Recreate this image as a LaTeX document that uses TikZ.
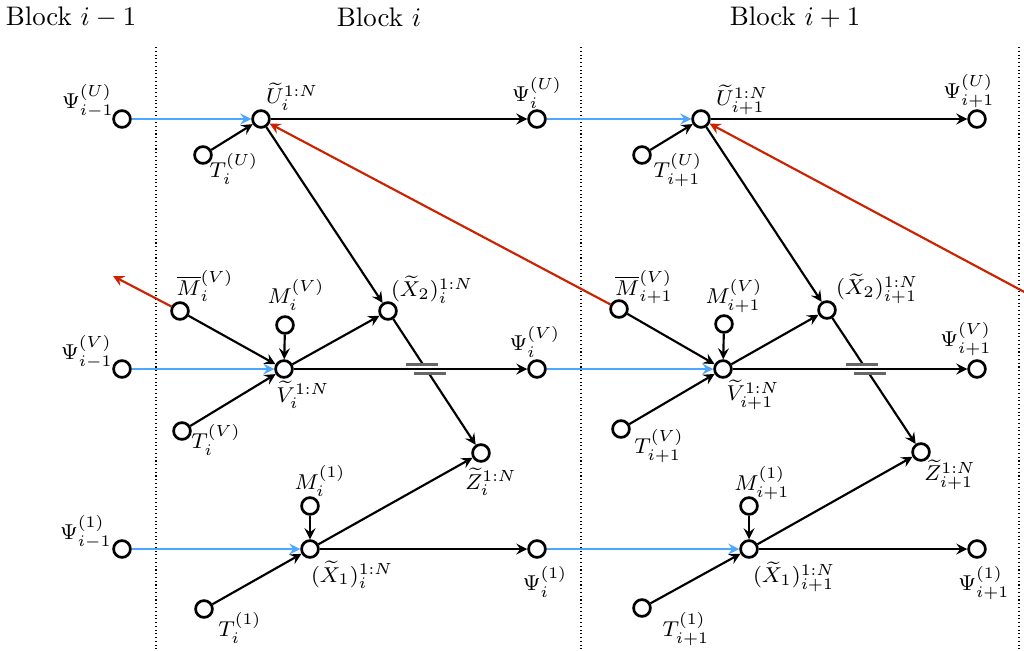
\documentclass[tikz,border=0pt]{standalone}
\usepackage{amsmath}
\usepackage{amssymb}
\usetikzlibrary{arrows.meta}
\definecolor{chainred}{RGB}{204,34,0}
\definecolor{psiblue}{RGB}{77,166,255}

% gap and bridge marks where X2 -> Z passes under V -> Psi
\newcommand{\crosshop}[1]{%
  \fill[white] (#1-7,365.5) rectangle (#1+9,372.5);
  \draw[hop] (#1-19,364.5) -- (#1+13,364.5);
  \draw[hop] (#1-11,373.5) -- (#1+21,373.5);
}

\begin{document}
\begin{tikzpicture}[
        x=0.01309cm, y=-0.01309cm,
        rv/.style={circle, draw=black, line width=1pt, fill=white, inner sep=0pt, minimum size=0.22cm},
        lab/.style={inner sep=0pt, font=\footnotesize},
        arrow/.style={->, >=stealth, thick},
        feed/.style={arrow, draw=psiblue},
        chain/.style={arrow, draw=chainred},
        sep/.style={densely dotted, thin},
        hop/.style={black!60, thick}
        ]
        \useasboundingbox (0,0) rectangle (1024,650);
        \clip (0,0) rectangle (1024,650);

        % Titles and block borders
        \node (titlePrev) at (71,17) {Block $i-1$};
        \node (titleCur) at (379,17) {Block $i$};
        \node (titleNext) at (795,17) {Block $i+1$};
        \draw[sep] (156,47) -- (156,650);
        \draw[sep] (581,47) -- (581,650);
        \draw[sep] (1019,47) -- (1019,650);

        % Nodes, block i
        \node[rv] (psiUprev) at (122,119) {};
        \node[rv] (Ui) at (261,119) {};
        \node[rv] (TUi) at (203,155) {};
        \node[rv] (psiUi) at (537,119) {};
        \node[rv] (mbarVi) at (180,311) {};
        \node[rv] (MVi) at (285,325) {};
        \node[rv] (Vi) at (284,369) {};
        \node[rv] (X2i) at (388,311) {};
        \node[rv] (psiVprev) at (122,369) {};
        \node[rv] (psiVi) at (537,369) {};
        \node[rv] (TVi) at (182,431) {};
        \node[rv] (Zi) at (481,453) {};
        \node[rv] (M1i) at (310,506) {};
        \node[rv] (X1i) at (310,549) {};
        \node[rv] (psi1prev) at (122,549) {};
        \node[rv] (psi1i) at (537,549) {};
        \node[rv] (T1i) at (204,609) {};

        % Nodes, block i+1
        \node[rv] (Uj) at (701,119) {};
        \node[rv] (TUj) at (642,155) {};
        \node[rv] (psiUj) at (977,119) {};
        \node[rv] (mbarVj) at (619,309) {};
        \node[rv] (MVj) at (724,324) {};
        \node[rv] (Vj) at (723,369) {};
        \node[rv] (X2j) at (827,310) {};
        \node[rv] (psiVj) at (977,369) {};
        \node[rv] (TVj) at (621,429) {};
        \node[rv] (Zj) at (921,452) {};
        \node[rv] (M1j) at (749,506) {};
        \node[rv] (X1j) at (749,549) {};
        \node[rv] (psi1j) at (977,549) {};
        \node[rv] (T1j) at (642,608) {};

        % Labels, block i
        \node[lab] (lpsiUprev) at (88,101) {$\Psi^{(U)}_{i-1}$};
        \node[lab] (lUi) at (292,97) {$\widetilde{U}_i^{1:N}$};
        \node[lab] (lTUi) at (234,169) {$T_i^{(U)}$};
        \node[lab] (lpsiUi) at (537,93) {$\Psi^{(U)}_{i}$};
        \node[lab] (lmbarVi) at (205,286) {$\overline{M}_i^{(V)}$};
        \node[lab] (lMVi) at (296,295) {$M_i^{(V)}$};
        \node[lab] (lVi) at (303,395) {$\widetilde{V}_i^{1:N}$};
        \node[lab] (lX2i) at (432,290) {$(\widetilde{X}_2)_i^{1:N}$};
        \node[lab] (lpsiVprev) at (87,352) {$\Psi^{(V)}_{i-1}$};
        \node[lab] (lpsiVi) at (535,342) {$\Psi^{(V)}_{i}$};
        \node[lab] (lTVi) at (216,440) {$T_i^{(V)}$};
        \node[lab] (lZi) at (491,482) {$\widetilde{Z}_i^{1:N}$};
        \node[lab] (lM1i) at (320,481) {$M_i^{(1)}$};
        \node[lab] (lX1i) at (352,575) {$(\widetilde{X}_1)_i^{1:N}$};
        \node[lab] (lpsi1prev) at (86,532) {$\Psi^{(1)}_{i-1}$};
        \node[lab] (lpsi1i) at (545,582) {$\Psi^{(1)}_{i}$};
        \node[lab] (lT1i) at (240,628) {$T_i^{(1)}$};

        % Labels, block i+1
        \node[lab] (lUj) at (742,100) {$\widetilde{U}_{i+1}^{1:N}$};
        \node[lab] (lTUj) at (678,170) {$T_{i+1}^{(U)}$};
        \node[lab] (lpsiUj) at (969,91) {$\Psi^{(U)}_{i+1}$};
        \node[lab] (lmbarVj) at (644,287) {$\overline{M}_{i+1}^{(V)}$};
        \node[lab] (lMVj) at (734,296) {$M_{i+1}^{(V)}$};
        \node[lab] (lVj) at (753,395) {$\widetilde{V}_{i+1}^{1:N}$};
        \node[lab] (lX2j) at (877,289) {$(\widetilde{X}_2)_{i+1}^{1:N}$};
        \node[lab] (lpsiVj) at (966,339) {$\Psi^{(V)}_{i+1}$};
        \node[lab] (lTVj) at (659,446) {$T_{i+1}^{(V)}$};
        \node[lab] (lZj) at (950,475) {$\widetilde{Z}_{i+1}^{1:N}$};
        \node[lab] (lM1j) at (762,483) {$M_{i+1}^{(1)}$};
        \node[lab] (lX1j) at (794,577) {$(\widetilde{X}_1)_{i+1}^{1:N}$};
        \node[lab] (lpsi1j) at (984,583) {$\Psi^{(1)}_{i+1}$};
        \node[lab] (lT1j) at (686,629) {$T_{i+1}^{(1)}$};

        % free ends of the red arrows
        \coordinate (outL) at (113,276);
        \coordinate (mbarVk) at (1058,310);

        % Arrows, block i
        \draw[arrow] (TUi) -- (Ui);
        \draw[arrow] (Ui) -- (psiUi);
        \draw[arrow] (Ui) -- (X2i);
        \draw[arrow] (mbarVi) -- (Vi);
        \draw[arrow] (MVi) -- (Vi);
        \draw[arrow] (TVi) -- (Vi);
        \draw[arrow] (Vi) -- (X2i);
        \draw[arrow] (X2i) -- (Zi);
        \crosshop{425}
        \draw[arrow] (Vi) -- (psiVi);
        \draw[arrow] (M1i) -- (X1i);
        \draw[arrow] (T1i) -- (X1i);
        \draw[arrow] (X1i) -- (Zi);
        \draw[arrow] (X1i) -- (psi1i);

        % Arrows, block i+1
        \draw[arrow] (TUj) -- (Uj);
        \draw[arrow] (Uj) -- (psiUj);
        \draw[arrow] (Uj) -- (X2j);
        \draw[arrow] (mbarVj) -- (Vj);
        \draw[arrow] (MVj) -- (Vj);
        \draw[arrow] (TVj) -- (Vj);
        \draw[arrow] (Vj) -- (X2j);
        \draw[arrow] (X2j) -- (Zj);
        \crosshop{865}
        \draw[arrow] (Vj) -- (psiVj);
        \draw[arrow] (M1j) -- (X1j);
        \draw[arrow] (T1j) -- (X1j);
        \draw[arrow] (X1j) -- (Zj);
        \draw[arrow] (X1j) -- (psi1j);

        % Psi carried to the next block
        \draw[feed] (psiUprev) -- (Ui);
        \draw[feed] (psiUi) -- (Uj);
        \draw[feed] (psiVprev) -- (Vi);
        \draw[feed] (psiVi) -- (Vj);
        \draw[feed] (psi1prev) -- (X1i);
        \draw[feed] (psi1i) -- (X1j);

        % Mbar sent back to the previous block
        \draw[chain] (mbarVi) -- (outL);
        \draw[chain] (mbarVj) -- (Ui);
        \draw[chain] (mbarVk) -- (Uj);

    \end{tikzpicture}
\end{document}
